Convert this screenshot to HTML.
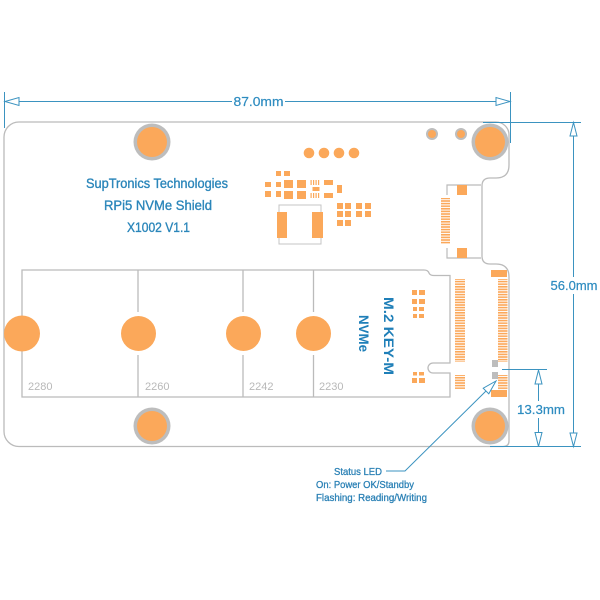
<!DOCTYPE html>
<html>
<head>
<meta charset="utf-8">
<style>
  html,body{margin:0;padding:0;background:#fff;}
  svg{display:block;}
  text{font-family:"Liberation Sans",sans-serif;}
</style>
</head>
<body>
<svg width="600" height="600" viewBox="0 0 600 600" xmlns="http://www.w3.org/2000/svg">
  <defs>
    <pattern id="stripes" x="0" y="0" width="10" height="2.6" patternUnits="userSpaceOnUse">
      <rect x="0" y="0" width="10" height="1.6" fill="#FBA85A"/>
    </pattern>
  </defs>
  <rect width="600" height="600" fill="#fff"/>

  <!-- Board outline -->
  <path d="M19,122 H496 A13,13 0 0 1 509,135 V165 Q509,178 496,178 H490 Q482,178 482,186 V256 Q482,264 490,264 H496 Q509,264 509,277 V441 Q509,446.5 503,446.5 H19 A15,15 0 0 1 4,431.5 V137 A15,15 0 0 1 19,122 Z"
        fill="#fff" stroke="#bbbbbb" stroke-width="1.3"/>

  <!-- Mounting holes -->
  <g>
    <circle cx="152" cy="142" r="18.5" fill="#bdbdbd"/><circle cx="152" cy="142" r="15" fill="#FBA85A"/>
    <circle cx="490" cy="142" r="18.5" fill="#bdbdbd"/><circle cx="490" cy="142" r="15" fill="#FBA85A"/>
    <circle cx="152" cy="426" r="18.5" fill="#bdbdbd"/><circle cx="152" cy="426" r="15" fill="#FBA85A"/>
    <circle cx="490" cy="426" r="18.5" fill="#bdbdbd"/><circle cx="490" cy="426" r="15" fill="#FBA85A"/>
    <circle cx="432" cy="134" r="6" fill="#bdbdbd"/><circle cx="432" cy="134" r="4" fill="#FBA85A"/>
    <circle cx="461" cy="134" r="6" fill="#bdbdbd"/><circle cx="461" cy="134" r="4" fill="#FBA85A"/>
  </g>

  <!-- Four dots -->
  <g fill="#FBA85A">
    <circle cx="309" cy="153" r="5.3"/><circle cx="324" cy="153" r="5.3"/>
    <circle cx="339" cy="153" r="5.3"/><circle cx="354" cy="153" r="5.3"/>
  </g>

  <!-- Components -->
  <g fill="#FBA85A">
    <rect x="276" y="171" width="5" height="5"/><rect x="284" y="171" width="6" height="5"/>
    <rect x="265" y="182" width="6" height="5"/><rect x="265" y="191" width="6" height="6"/>
    <rect x="276" y="182" width="5" height="5"/><rect x="276" y="191" width="5" height="6"/>
    <rect x="284" y="180" width="9" height="8"/><rect x="284" y="191" width="9" height="8"/>
    <rect x="297" y="180" width="9" height="8"/><rect x="297" y="191" width="9" height="8"/>
    <rect x="324" y="180" width="9" height="5"/><rect x="324" y="193" width="9" height="5"/>
    <rect x="337" y="185" width="5" height="8"/>
    <rect x="310.5" y="180" width="1.2" height="5"/><rect x="313" y="180" width="1.2" height="5"/>
    <rect x="315.5" y="180" width="1.2" height="5"/><rect x="318" y="180" width="1.2" height="5"/>
    <rect x="310.5" y="193" width="1.2" height="5"/><rect x="313" y="193" width="1.2" height="5"/>
    <rect x="315.5" y="193" width="1.2" height="5"/><rect x="318" y="193" width="1.2" height="5"/>
    <rect x="312.5" y="187" width="7" height="4"/>
    <rect x="337" y="203" width="6" height="6"/><rect x="345" y="203" width="6" height="6"/>
    <rect x="356" y="203" width="6" height="6"/><rect x="365" y="203" width="6" height="6"/>
    <rect x="337" y="211" width="6" height="6"/><rect x="345" y="211" width="6" height="6"/>
    <rect x="356" y="211" width="6" height="6"/><rect x="365" y="211" width="6" height="6"/>
    <rect x="337" y="220" width="6" height="6"/><rect x="345" y="220" width="6" height="6"/>
  </g>
  <rect x="279" y="205" width="42" height="39" fill="none" stroke="#c4c4c4" stroke-width="1"/>
  <rect x="277" y="212" width="10" height="26" fill="#FBA85A"/>
  <rect x="312" y="212" width="11" height="26" fill="#FBA85A"/>

  <!-- Top FPC connector -->
  <path d="M481,185 H447 V195 M447,248 V258 H481" fill="none" stroke="#bbbbbb" stroke-width="1.2"/>
  <rect x="457" y="185" width="10" height="10" fill="#FBA85A"/>
  <rect x="457" y="248" width="10" height="10" fill="#FBA85A"/>
  <rect x="441" y="198" width="9" height="46" fill="url(#stripes)"/>

  <!-- M.2 slot outline -->
  <path d="M22,270 H424 Q428,270 429,273 Q430,275.5 434,275.5 H450 V363 H433 A5,5 0 0 0 433,373 H450 V397 H22 Z"
        fill="none" stroke="#bbbbbb" stroke-width="1.3"/>
  <g stroke="#bbbbbb" stroke-width="1.3">
    <line x1="138" y1="270" x2="138" y2="312"/><line x1="138" y1="355" x2="138" y2="397"/>
    <line x1="243" y1="270" x2="243" y2="312"/><line x1="243" y1="355" x2="243" y2="397"/>
    <line x1="313.5" y1="270" x2="313.5" y2="312"/><line x1="313.5" y1="355" x2="313.5" y2="397"/>
  </g>
  <g fill="#FBA85A">
    <circle cx="22" cy="333.5" r="18"/>
    <circle cx="138.5" cy="333.5" r="17.5"/>
    <circle cx="243.5" cy="333.5" r="17.5"/>
    <circle cx="313.5" cy="333.5" r="17.5"/>
  </g>
  <g fill="#b8b8b8" font-size="11">
    <text x="28" y="390">2280</text>
    <text x="145" y="390">2260</text>
    <text x="249" y="390">2242</text>
    <text x="319" y="390">2230</text>
  </g>

  <!-- Small pads inside M.2 -->
  <g fill="#FBA85A">
    <rect x="412" y="290" width="5" height="5"/><rect x="419" y="290" width="6" height="5"/>
    <rect x="412" y="299" width="5" height="5"/><rect x="419" y="299" width="6" height="5"/>
    <rect x="413" y="307" width="4" height="4"/><rect x="419" y="307" width="5" height="4"/>
    <rect x="413" y="314" width="4" height="4"/><rect x="419" y="314" width="5" height="4"/>
    <rect x="413" y="372" width="4" height="3.5"/><rect x="419" y="372" width="5" height="3.5"/>
    <rect x="412" y="378" width="5" height="5"/><rect x="419" y="378" width="6" height="5"/>
  </g>
  <rect x="455" y="279" width="10" height="83" fill="url(#stripes)"/>
  <rect x="455" y="375" width="10" height="14" fill="url(#stripes)"/>
  <rect x="491" y="270" width="16" height="7" fill="#FBA85A"/>
  <rect x="498" y="279" width="9.5" height="83" fill="url(#stripes)"/>
  <rect x="498" y="375" width="9.5" height="15" fill="url(#stripes)"/>
  <rect x="491" y="390" width="16" height="7" fill="#FBA85A"/>
  <rect x="492" y="360" width="6" height="7" fill="#bdbdbd"/>
  <rect x="492" y="372" width="6" height="7" fill="#bdbdbd"/>

  <!-- Labels -->
  <g fill="#2B86BA" stroke="#2B86BA" stroke-width="0.35" font-size="13.5">
    <text x="86" y="188" textLength="142" lengthAdjust="spacingAndGlyphs">SupTronics Technologies</text>
    <text x="104" y="210" textLength="108" lengthAdjust="spacingAndGlyphs">RPi5  NVMe  Shield</text>
    <text x="127" y="232" textLength="63" lengthAdjust="spacingAndGlyphs">X1002  V1.1</text>
  </g>
  <g fill="#1F7FB8" font-size="14" font-weight="bold">
    <text transform="translate(384,336) rotate(90)" text-anchor="middle" textLength="78" lengthAdjust="spacingAndGlyphs">M.2 KEY-M</text>
    <text transform="translate(359,333.5) rotate(90)" text-anchor="middle" textLength="37" lengthAdjust="spacingAndGlyphs">NVMe</text>
  </g>

  <!-- Dimension lines -->
  <g stroke="#3b93c0" stroke-width="1" fill="none">
    <line x1="4.5" y1="92" x2="4.5" y2="128"/>
    <line x1="510.5" y1="92" x2="510.5" y2="143"/>
    <line x1="5" y1="101.5" x2="232" y2="101.5"/>
    <line x1="285" y1="101.5" x2="510" y2="101.5"/>
    <polygon points="5,101.5 19,97.5 19,105.5" fill="#fff"/>
    <polygon points="510,101.5 496,97.5 496,105.5" fill="#fff"/>
    <line x1="483" y1="122.5" x2="581" y2="122.5"/>
    <line x1="490" y1="446.5" x2="581" y2="446.5"/>
    <line x1="573.5" y1="122.5" x2="573.5" y2="277"/>
    <line x1="573.5" y1="294" x2="573.5" y2="446.5"/>
    <polygon points="573.5,122.5 570,136 577,136" fill="#fff"/>
    <polygon points="573.5,446.5 570,433 577,433" fill="#fff"/>
    <line x1="502" y1="369.5" x2="547" y2="369.5"/>
    <line x1="538.5" y1="369.5" x2="538.5" y2="401"/>
    <line x1="538.5" y1="418" x2="538.5" y2="446.5"/>
    <polygon points="538.5,370 535,384 542,384" fill="#fff"/>
    <polygon points="538.5,446.5 535,432.5 542,432.5" fill="#fff"/>
    <polyline points="486,391 405,471 386,471"/>
    <polygon points="496,381 488.8,393.8 483.2,388.2" fill="#fff"/>
  </g>
  <g fill="#2e8cc0" stroke="#2e8cc0" stroke-width="0.2" font-size="13">
    <text x="258.5" y="106" text-anchor="middle" textLength="50" lengthAdjust="spacingAndGlyphs">87.0mm</text>
    <text x="574" y="290" text-anchor="middle" textLength="47" lengthAdjust="spacingAndGlyphs">56.0mm</text>
    <text x="541" y="414" text-anchor="middle" textLength="48" lengthAdjust="spacingAndGlyphs">13.3mm</text>
  </g>

  <g fill="#2a80b5" stroke="#2a80b5" stroke-width="0.3" font-size="10.5">
    <text x="382" y="475" text-anchor="end" textLength="48" lengthAdjust="spacingAndGlyphs">Status LED</text>
    <text x="316" y="488" textLength="98" lengthAdjust="spacingAndGlyphs">On: Power OK/Standby</text>
    <text x="316" y="501" textLength="111" lengthAdjust="spacingAndGlyphs">Flashing: Reading/Writing</text>
  </g>
</svg>
</body>
</html>
